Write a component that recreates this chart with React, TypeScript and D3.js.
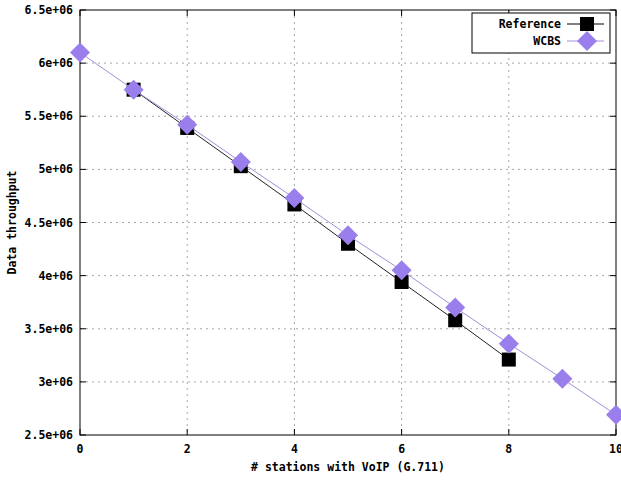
import React from "react";
import * as d3 from "d3";

const refX = [1, 2, 3, 4, 5, 6, 7, 8];
const refY = [5.75e6, 5.39e6, 5.03e6, 4.67e6, 4.3e6, 3.94e6, 3.58e6, 3.21e6];
const wcbsX = [0, 1, 2, 3, 4, 5, 6, 7, 8, 9, 10];
const wcbsY = [6.1e6, 5.75e6, 5.42e6, 5.07e6, 4.73e6, 4.38e6, 4.05e6, 3.7e6, 3.36e6, 3.03e6, 2.69e6];
const xTicks = [0, 2, 4, 6, 8, 10];
const yTicks = [2.5e6, 3e6, 3.5e6, 4e6, 4.5e6, 5e6, 5.5e6, 6e6, 6.5e6];
const yTickLabels = ["2.5e+06", "3e+06", "3.5e+06", "4e+06", "4.5e+06", "5e+06", "5.5e+06", "6e+06", "6.5e+06"];
const seriesNames = ["Reference", "WCBS"];

const W = 621, H = 481;
const L = 80, R = 616, T = 10, B = 435;
const font = "'DejaVu Sans Mono', monospace";
const purple = "#9a7eec";
const purpleLine = "#9f8fd8";

export default function App() {
  const x = d3.scaleLinear().domain([0, 10]).range([L, R]);
  const y = d3.scaleLinear().domain([2.5e6, 6.5e6]).range([B, T]);
  const refPts = refX.map((v, i) => [x(v), y(refY[i])] as [number, number]);
  const wPts = wcbsX.map((v, i) => [x(v), y(wcbsY[i])] as [number, number]);
  const line = d3.line();
  const sq = 7, dm = 10;
  const diamond = (cx: number, cy: number) => `M${cx},${cy - dm}L${cx + dm},${cy}L${cx},${cy + dm}L${cx - dm},${cy}Z`;
  return (
    <svg width={W} height={H} style={{ position: "absolute", left: 0, top: 0, background: "#fff" }}>
      <rect x={0} y={0} width={W} height={H} fill="#fff" />
      {xTicks.slice(1, -1).map((t) => (
        <line key={"gx" + t} x1={x(t)} x2={x(t)} y1={T} y2={B} stroke="#a8a8a8" strokeWidth={1} strokeDasharray="2,4" />
      ))}
      {yTicks.slice(1, -1).map((t) => (
        <line key={"gy" + t} x1={L} x2={R} y1={y(t)} y2={y(t)} stroke="#a8a8a8" strokeWidth={1} strokeDasharray="2,4" />
      ))}
      {xTicks.map((t) => (
        <g key={"tx" + t}>
          <line x1={x(t)} x2={x(t)} y1={B} y2={B - 6} stroke="#000" />
          <line x1={x(t)} x2={x(t)} y1={T} y2={T + 6} stroke="#000" />
          <text x={x(t)} y={453} textAnchor="middle" fontFamily={font} fontWeight="bold" fontSize={11.5}>{t}</text>
        </g>
      ))}
      {yTicks.map((t, i) => (
        <g key={"ty" + t}>
          <line x1={L} x2={L + 6} y1={y(t)} y2={y(t)} stroke="#000" />
          <line x1={R} x2={R - 6} y1={y(t)} y2={y(t)} stroke="#000" />
          <text x={73} y={y(t) + 4} textAnchor="end" fontFamily={font} fontWeight="bold" fontSize={11.5}>{yTickLabels[i]}</text>
        </g>
      ))}
      <rect x={L} y={T} width={R - L} height={B - T} fill="none" stroke="#000" strokeWidth={1} />
      <path d={line(refPts) || ""} fill="none" stroke="#222" strokeWidth={1} />
      {refPts.map(([cx, cy], i) => (
        <rect key={"r" + i} x={cx - sq} y={cy - sq} width={sq * 2} height={sq * 2} fill="#000" />
      ))}
      <path d={line(wPts) || ""} fill="none" stroke={purpleLine} strokeWidth={1} />
      {wPts.map(([cx, cy], i) => (
        <path key={"w" + i} d={diamond(cx, cy)} fill={purple} />
      ))}
      <text x={(L + R) / 2} y={471} textAnchor="middle" fontFamily={font} fontWeight="bold" fontSize={11.5}>
        # stations with VoIP (G.711)
      </text>
      <text transform={`translate(16,${(T + B) / 2}) rotate(-90)`} textAnchor="middle" fontFamily={font} fontWeight="bold" fontSize={11.5}>
        Data throughput
      </text>
      <rect x={472} y={13} width={138} height={40} fill="#fff" stroke="#000" strokeWidth={1} />
      <text x={561} y={28} textAnchor="end" fontFamily={font} fontWeight="bold" fontSize={11.5}>{seriesNames[0]}</text>
      <line x1={567} x2={604} y1={24} y2={24} stroke="#000" />
      <rect x={587 - sq} y={24 - sq} width={sq * 2} height={sq * 2} fill="#000" />
      <text x={561} y={45} textAnchor="end" fontFamily={font} fontWeight="bold" fontSize={11.5}>{seriesNames[1]}</text>
      <line x1={567} x2={604} y1={41} y2={41} stroke={purpleLine} />
      <path d={diamond(587, 41)} fill={purple} />
    </svg>
  );
}
